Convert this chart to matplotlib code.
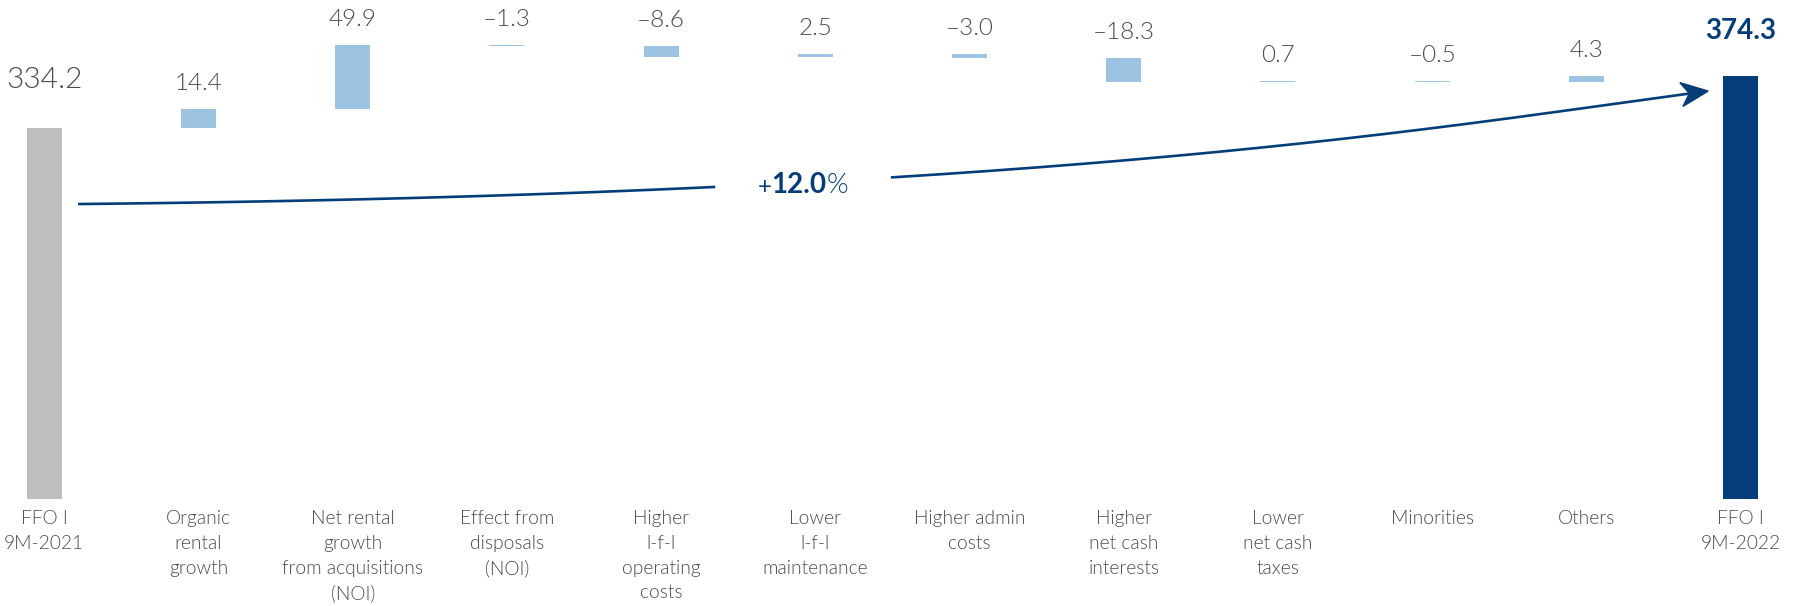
import numpy as np
import matplotlib.pyplot as plt
from matplotlib.patches import Polygon
from matplotlib.transforms import IdentityTransform

# FFO I bridge 9M-2021 -> 9M-2022 (EUR m)
categories = ['FFO I\n9M-2021', 'Organic\nrental\ngrowth',
              'Net rental\ngrowth\nfrom acquisitions\n(NOI)',
              'Effect from\ndisposals\n(NOI)', 'Higher\nl-f-l\noperating\ncosts',
              'Lower\nl-f-l\nmaintenance', 'Higher admin\ncosts',
              'Higher\nnet cash\ninterests', 'Lower\nnet cash\ntaxes',
              'Minorities', 'Others', 'FFO I\n9M-2022']
ffo_start = 334.2
changes = [14.4, 49.9, -1.3, -8.6, 2.5, -3.0, -18.3, 0.7, -0.5, 4.3]
ffo_end = 374.3

AXIS_FLOOR = 48  # the y axis is cut, totals start here

GREY = '#bfbebc'
LIGHT_BLUE = '#9dc3e2'
NAVY = '#053d7a'
TEXT = '#4e4a47'

plt.rcParams['font.family'] = ['Lato', 'DejaVu Sans']

fig = plt.figure(figsize=(17.93, 6.06), dpi=100)
ax = fig.add_axes([0, 0, 1, 1])
ax.set_xlim(-0.2873, 11.34)
ax.set_ylim(-34.3, 432.9)
ax.axis('off')

x = np.arange(len(categories))
w = 0.227

# running totals for the floating bars
levels = ffo_start + np.concatenate([[0], np.cumsum(changes)])
bottoms = np.minimum(levels[:-1], levels[1:])
heights = np.abs(changes)

ax.bar(x[0], ffo_start - AXIS_FLOOR, w, bottom=AXIS_FLOOR, color=GREY)
ax.bar(x[1:-1], heights, w, bottom=bottoms, color=LIGHT_BLUE)
ax.bar(x[-1], ffo_end - AXIS_FLOOR, w, bottom=AXIS_FLOOR, color=NAVY)


def fmt(v):
    s = f'{abs(v):.1f}'
    return ('\u2013' + s) if v < 0 else s


ax.annotate(fmt(ffo_start), (x[0], ffo_start), xytext=(0, 29),
            textcoords='offset points', ha='center', va='baseline',
            fontsize=21.5, fontweight=300, color=TEXT)
for xi, b, h, v in zip(x[1:-1], bottoms, heights, changes):
    ax.annotate(fmt(v), (xi, b + h), xytext=(0, 13.7),
                textcoords='offset points', ha='center', va='baseline',
                fontsize=17.5, fontweight=300, color=TEXT)
ax.annotate(fmt(ffo_end), (x[-1], ffo_end), xytext=(0, 27),
            textcoords='offset points', ha='center', va='baseline',
            fontsize=20, fontweight='bold', color=NAVY)

for xi, name in zip(x, categories):
    ax.annotate(name, (xi, AXIS_FLOOR), xytext=(0, -8),
                textcoords='offset points', ha='center', va='top',
                multialignment='center', linespacing=1.55,
                fontsize=13.8, fontweight=300, color=TEXT)

# growth arrow: cubic bezier from the start bar to the end bar
p0 = np.array([0.2185, 275.6])
p1 = np.array([6.704, 283.3])
p2 = np.array([9.168, 337.7])
p3 = np.array([10.79, 362.7])
t = np.linspace(0, 0.98, 400)[:, None]
curve = ((1 - t) ** 3 * p0 + 3 * (1 - t) ** 2 * t * p1
         + 3 * (1 - t) * t ** 2 * p2 + t ** 3 * p3)
left = curve[curve[:, 0] <= 4.369]
right = curve[curve[:, 0] >= 5.472]
for seg in (left, right):
    ax.plot(seg[:, 0], seg[:, 1], color=NAVY, lw=1.9, solid_capstyle='butt')

# stealth arrow head, built in pixels so it keeps its shape
tip = ax.transData.transform(p3)
back = ax.transData.transform(p2)
u = (tip - back) / np.hypot(*(tip - back))
n = np.array([-u[1], u[0]])
head = [tip, tip - 27 * u + 12 * n, tip - 19 * u, tip - 27 * u - 12 * n]
ax.add_patch(Polygon(head, closed=True, color=NAVY, transform=IdentityTransform()))

growth = (ffo_end / ffo_start - 1) * 100
mid = ax.text(4.892, 283.9, f'{growth:.1f}', ha='center', va='baseline',
              fontsize=20, fontweight='bold', color=NAVY)
ax.annotate('+', (0, 0), xycoords=mid, ha='right', va='bottom',
            fontsize=17, color=NAVY)
ax.annotate('%', (1, 0), xycoords=mid, ha='left', va='bottom',
            fontsize=20, fontweight=300, color=NAVY)

fig.savefig('out.png', dpi=100)
